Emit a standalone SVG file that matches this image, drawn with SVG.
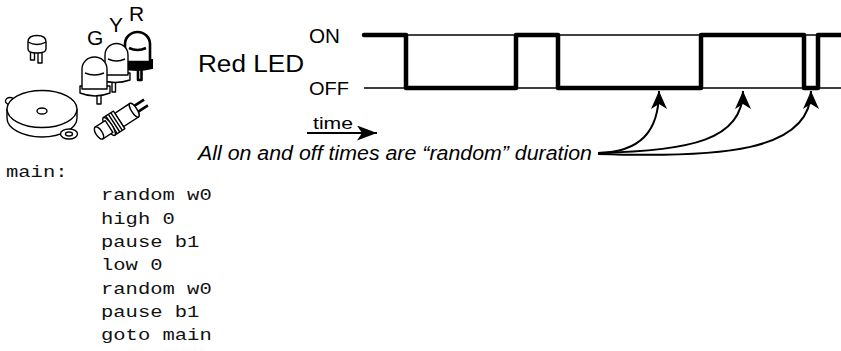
<svg xmlns="http://www.w3.org/2000/svg" width="841" height="351" viewBox="0 0 841 351">
<style>
.sans{font-family:"Liberation Sans",Arial,sans-serif;fill:#000}
.mono{font-family:"Liberation Mono","Courier New",monospace;font-size:16px;fill:#111}
.thin{fill:none;stroke:#000;stroke-width:1.3}
.wave{fill:none;stroke:#000;stroke-width:4.5;stroke-linejoin:round;stroke-linecap:round}
.conn{fill:none;stroke:#000;stroke-width:2}
.part{fill:#fff;stroke:#000;stroke-width:1.4;stroke-linejoin:round}
.bold{fill:#fff;stroke:#000;stroke-width:2.6;stroke-linejoin:round}
</style>
<defs>
<marker id="ah" markerUnits="userSpaceOnUse" viewBox="0 0 18 16" refX="18" refY="8" markerWidth="18" markerHeight="16" orient="auto">
<path d="M0,0 L18,8 L0,16 L5,8 Z" fill="#000"/>
</marker>
<marker id="ah2" markerUnits="userSpaceOnUse" viewBox="0 0 20 15" refX="20" refY="7.5" markerWidth="20" markerHeight="15" orient="auto">
<path d="M0,0 L20,7.5 L0,15 L5,7.5 Z" fill="#000"/>
</marker>
</defs>
<rect width="841" height="351" fill="#fff"/>

<g id="parts">
<g id="small-part">
<rect x="30.5" y="49" width="4" height="11" class="part"/>
<rect x="38" y="51" width="4" height="12" class="part"/>
<path d="M28,42 Q28,35.5 37,35.5 Q46,35.5 46,42 L46,49 Q46,53 37,53 Q28,53 28,49 Z" class="part"/>
<path d="M28,42 Q37,47 46,42" class="part" fill="none"/>
</g>
<g id="buzzer">
<ellipse cx="10" cy="101" rx="4.5" ry="3.5" class="part"/>
<path d="M7,109 V118 A35,19 0 0 0 77,118 V109" class="part"/>
<ellipse cx="42" cy="109" rx="35" ry="18.5" class="part"/>
<ellipse cx="42" cy="111" rx="5" ry="3" class="part"/>
<ellipse cx="69" cy="134" rx="8.5" ry="5" class="part"/>
<ellipse cx="69" cy="134" rx="3.5" ry="2" class="part"/>
</g>
<g id="led-r">
<rect x="138" y="66" width="3.5" height="14" class="bold"/>
<path d="M122,60 L152,60 L152,68 Q137,72 122,68 Z" fill="#000" stroke="#000" stroke-width="2"/>
<path d="M125,44 A12.5,12 0 0 1 150,44 V62 H125 Z" class="bold"/>
<path d="M129,48 Q137.5,52 146,48" class="bold" fill="none"/>
</g>
<g id="led-y">
<rect x="112" y="80" width="3.5" height="12" class="part"/>
<path d="M101,73 L130,73 L130,80 Q115,85 101,80 Z" class="part"/>
<path d="M105,55 A11.5,11.5 0 0 1 128,55 V75 H105 Z" class="part"/>
<path d="M108,59 Q116.5,63 125,59" class="part" fill="none"/>
</g>
<g id="led-g">
<rect x="97" y="93" width="4" height="11" class="part"/>
<path d="M80,86 L110,86 L110,93 Q95,99 80,93 Z" class="part"/>
<path d="M82,69 A12.5,12 0 0 1 107,69 V89 H82 Z" class="part"/>
<path d="M85,73 Q94.5,77 104,73" class="part" fill="none"/>
</g>
<g id="pushbutton" transform="translate(99,133) rotate(-33)">
<path d="M42,-3.5 H56 M42,3.5 H56" stroke="#000" stroke-width="2.6" fill="none"/>
<path d="M24,-8 H42 V8 H24 Z" class="part"/>
<ellipse cx="42" cy="0" rx="2.8" ry="8" class="part"/>
<path d="M12,-10.5 H24 V10.5 H12 Z" class="part"/>
<path d="M15,-10.5 V10.5 M18,-10.5 V10.5 M21,-10.5 V10.5" class="part"/>
<ellipse cx="12" cy="0" rx="3.2" ry="10.5" class="part"/>
<path d="M0,-7 H12 V7 H0 Z" class="part"/>
<ellipse cx="0" cy="0" rx="3.2" ry="7" class="part"/>
</g>
<text class="sans" x="87" y="45" font-size="21">G</text>
<text class="sans" x="109" y="32" font-size="21">Y</text>
<text class="sans" x="129" y="21" font-size="21">R</text>
</g>

<g id="timing">
<path d="M364,35 H841 M364,88 H841" class="thin"/>
<path d="M364,35 H406 V88 H516 V35 H558 V88 H701 V35 H804 V88 H818 V35 H845" class="wave"/>
<text class="sans" x="198" y="72" font-size="23" textLength="106" lengthAdjust="spacingAndGlyphs">Red LED</text>
<text class="sans" x="309" y="43" font-size="20" textLength="31" lengthAdjust="spacingAndGlyphs">ON</text>
<text class="sans" x="309" y="95" font-size="19" textLength="40" lengthAdjust="spacingAndGlyphs">OFF</text>
<text class="sans" x="313" y="128.5" font-size="16.5" textLength="40" lengthAdjust="spacingAndGlyphs">time</text>
<text class="sans" x="198" y="160" font-size="19.5" font-style="italic" textLength="394" lengthAdjust="spacingAndGlyphs">All on and off times are “random” duration</text>
</g>

<g id="connectors">
<path d="M307,133 H377" class="conn" stroke-width="2.4" marker-end="url(#ah2)"/>
<path d="M598,153 C640,152 659,132 659,91" class="conn" marker-end="url(#ah)"/>
<path d="M598,153 C690,151 743,140 743,91" class="conn" marker-end="url(#ah)"/>
<path d="M598,154 C720,158 811,152 811,91" class="conn" marker-end="url(#ah)"/>
</g>

<g id="code">
<text class="mono" x="6" y="177" textLength="61.5" lengthAdjust="spacingAndGlyphs">main:</text>
<text class="mono" x="101" y="200.3" textLength="110.7" lengthAdjust="spacingAndGlyphs">random w0</text>
<text class="mono" x="101" y="223.7" textLength="73.8" lengthAdjust="spacingAndGlyphs">high 0</text>
<text class="mono" x="101" y="247" textLength="98.4" lengthAdjust="spacingAndGlyphs">pause b1</text>
<text class="mono" x="101" y="270.3" textLength="61.5" lengthAdjust="spacingAndGlyphs">low 0</text>
<text class="mono" x="101" y="293.7" textLength="110.7" lengthAdjust="spacingAndGlyphs">random w0</text>
<text class="mono" x="101" y="317" textLength="98.4" lengthAdjust="spacingAndGlyphs">pause b1</text>
<text class="mono" x="101" y="340.3" textLength="110.7" lengthAdjust="spacingAndGlyphs">goto main</text>
</g>
</svg>
